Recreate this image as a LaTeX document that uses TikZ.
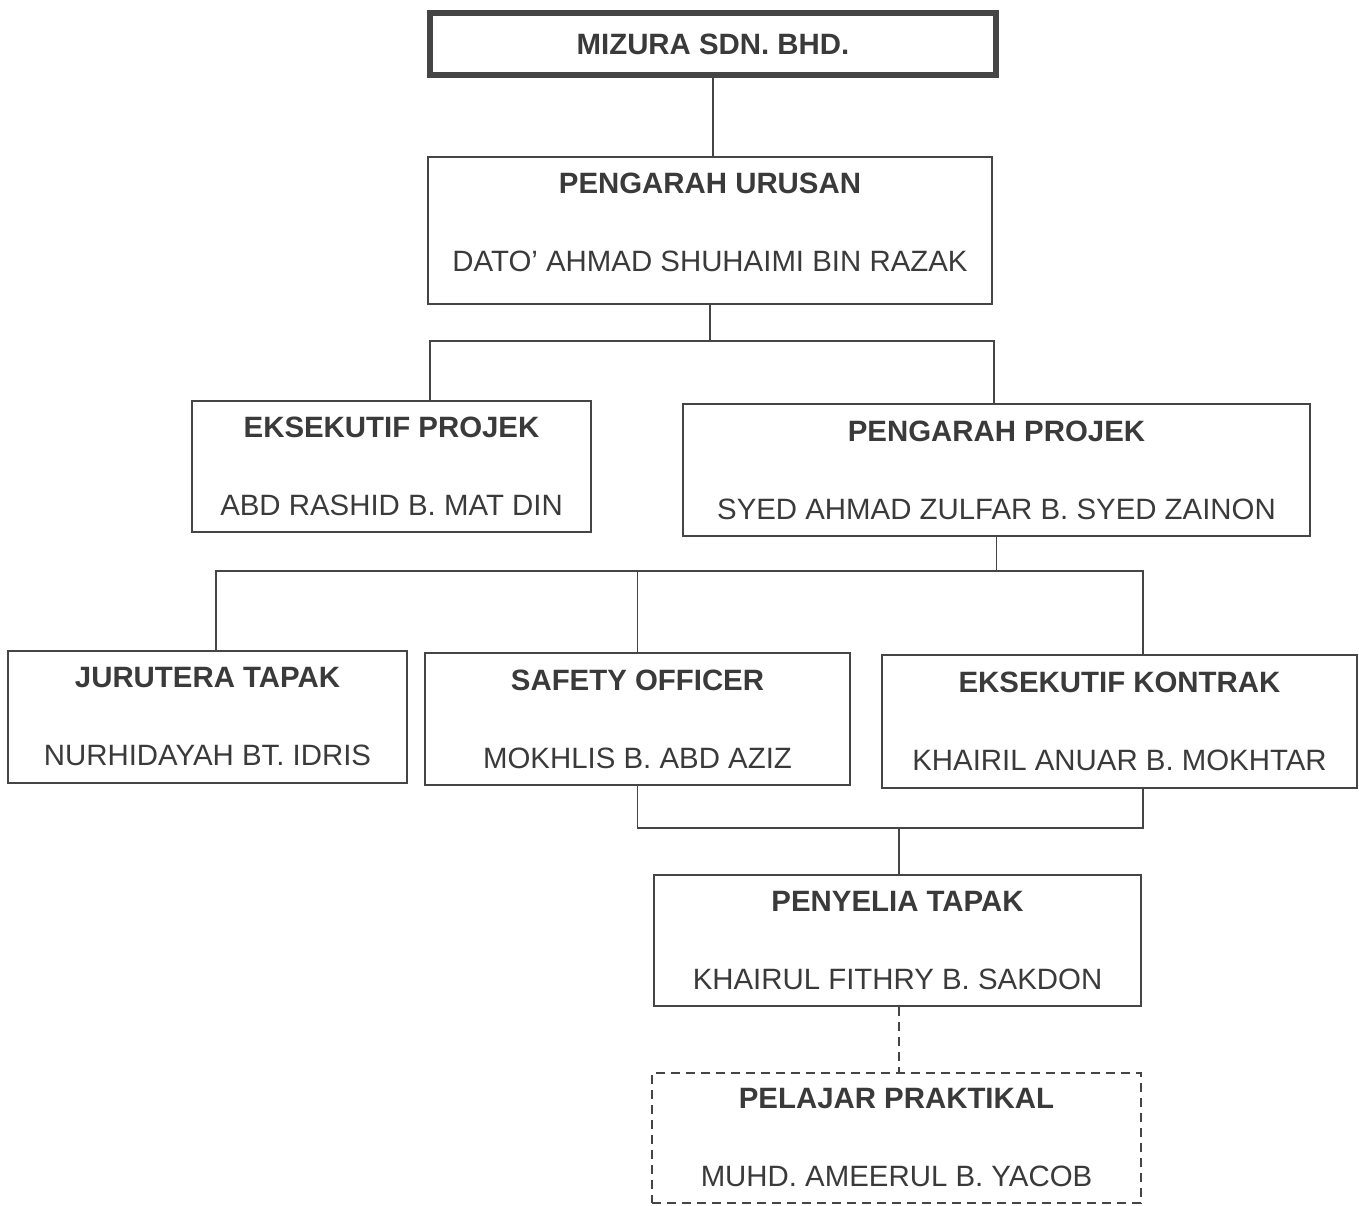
\documentclass[tikz,border=0pt]{standalone}
\usepackage{fontspec}
\setmainfont{Liberation Sans}
\definecolor{ink}{HTML}{3A3A3A}
\definecolor{rule}{HTML}{454545}
\begin{document}
\begin{tikzpicture}[
  x=0.5pt, y=-0.5pt,
  post/.style={draw=rule, line width=1pt, text=ink, align=center, inner sep=0pt,
    font=\fontsize{14.7}{39}\selectfont},
  link/.style={draw=rule, line width=0.8pt}
]
\useasboundingbox (0,0) rectangle (1359,1205);
\node[post, line width=3pt, minimum width=283pt, minimum height=31pt, font=\fontsize{14.7}{17}\selectfont\bfseries]
  (top) at (713,44) {MIZURA SDN. BHD.};
\node[post, text depth=8.5pt, minimum width=282pt, minimum height=73.5pt] (md) at (710,230.5)
  {\textbf{PENGARAH URUSAN}\\DATO’ AHMAD SHUHAIMI BIN RAZAK};
\node[post, minimum width=199.5pt, minimum height=65.5pt] (ep) at (391.5,466.5)
  {\textbf{EKSEKUTIF PROJEK}\\ABD RASHID B. MAT DIN};
\node[post, minimum width=313.5pt, minimum height=66pt] (pp) at (996.5,470)
  {\textbf{PENGARAH PROJEK}\\SYED AHMAD ZULFAR B. SYED ZAINON};
\node[post, minimum width=199.5pt, minimum height=66pt] (jt) at (207.5,717)
  {\textbf{JURUTERA TAPAK}\\NURHIDAYAH BT. IDRIS};
\node[post, minimum width=212.5pt, minimum height=66pt] (so) at (637.5,719)
  {\textbf{SAFETY OFFICER}\\MOKHLIS B. ABD AZIZ};
\node[post, minimum width=237.5pt, minimum height=66.5pt] (ek) at (1119.5,721.5)
  {\textbf{EKSEKUTIF KONTRAK}\\KHAIRIL ANUAR B. MOKHTAR};
\node[post, minimum width=243.5pt, minimum height=65.5pt] (pt) at (897.5,940.5)
  {\textbf{PENYELIA TAPAK}\\KHAIRUL FITHRY B. SAKDON};
\node[post, dash pattern=on 4.5pt off 3pt, minimum width=244.5pt, minimum height=65pt] (pr) at (896.5,1138)
  {\textbf{PELAJAR PRAKTIKAL}\\MUHD. AMEERUL B. YACOB};
\coordinate (j1) at (712,341);
\coordinate (j2) at (996.5,571);
\coordinate (j3) at (899,828);
\draw[link] (top.south) -- (top.south |- md.north);
\draw[link] (md.south) -- (md.south |- j1) -- (j1);
\draw[link] (j1) -| ([xshift=19.25pt]ep.north);
\draw[link] (j1) -| ([xshift=-1.25pt]pp.north);
\draw[link] (pp.south) -- (j2);
\draw[link] (j2) -| ([xshift=4.25pt]jt.north);
\draw[link] (j2) -| ([xshift=11.75pt]ek.north);
\draw[link] (so.north) -- (so.north |- j2);
\draw[link] (so.south) |- (j3);
\draw[link] ([xshift=11.75pt]ek.south) |- (j3);
\draw[link] (j3) -- (j3 |- pt.north);
\draw[link, dash pattern=on 4.5pt off 3pt] (pt.south -| j3) -- (j3 |- pr.north);
\end{tikzpicture}
\end{document}
